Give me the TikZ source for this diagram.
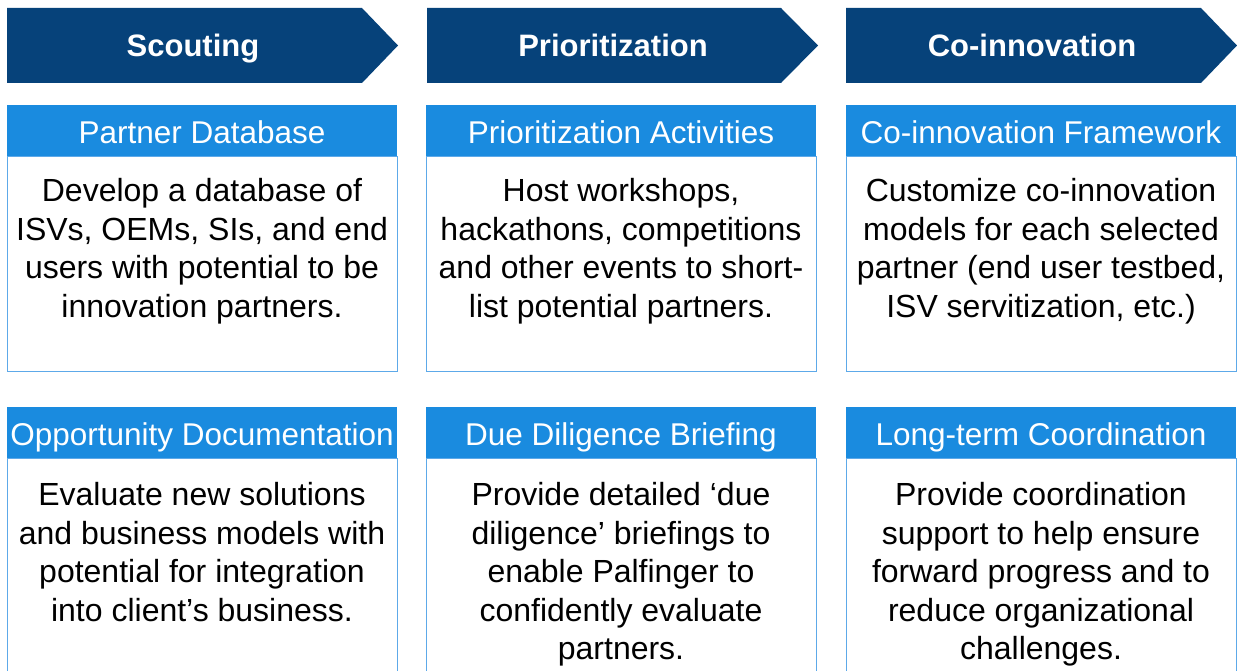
\documentclass[tikz,border=0pt]{standalone}
\usepackage{fontspec}
\setmainfont{Liberation Sans}
\definecolor{phaseblue}{HTML}{06427A}
\definecolor{headblue}{HTML}{1A8BDF}
\definecolor{edgeblue}{HTML}{5DA9E9}
\begin{document}
\begin{tikzpicture}[x=1pt,y=-1pt]
    \tikzstyle{phase}=[fill=phaseblue]
    \tikzstyle{phasetext}=[text=white,anchor=base,font=\fontsize{31}{36}\selectfont\bfseries]
    \tikzstyle{head}=[rectangle,fill=headblue,text=white,minimum width=390pt,minimum height=51pt,inner sep=0pt,text height=26pt,text depth=0pt,font=\fontsize{31.5}{36}\selectfont]
    \tikzstyle{body}=[draw=edgeblue,line width=1pt]
    \tikzstyle{bodytext}=[align=center,anchor=north,inner sep=0pt,font=\fontsize{32}{38.5}\selectfont]

    \useasboundingbox (0,0) rectangle (1237,671);
    \clip (0,0) rectangle (1237,671);

    % phase arrows
    \fill[phase] (7,8) -- (362,8) -- (398,45.5) -- (362,83) -- (7,83) -- cycle;
    \fill[phase] (427,8) -- (781,8) -- (818,45.5) -- (781,83) -- (427,83) -- cycle;
    \fill[phase] (846,8) -- (1201,8) -- (1237,45.5) -- (1201,83) -- (846,83) -- cycle;
    \node[phasetext] (scouting) at (193,57) {Scouting};
    \node[phasetext] (prio) at (613,57) {Prioritization};
    \node[phasetext] (coinno) at (1032,57) {Co-innovation};

    % first row
    \draw[body] (7,157) rectangle (397,371);
    \draw[body] (426,157) rectangle (816,371);
    \draw[body] (846,157) rectangle (1236,371);
    \node[head] (database) at (202,131) {Partner Database};
    \node[head] (activities) at (621,131) {Prioritization Activities};
    \node[head] (framework) at (1041,131) {Co-innovation Framework};
    \node[bodytext] (develop) at (202,178.5) {Develop a database of\\ISVs, OEMs, SIs, and end\\users with potential to be\\innovation partners.};
    \node[bodytext] (host) at (621,178.5) {Host workshops,\\hackathons, competitions\\and other events to short-\\list potential partners.};
    \node[bodytext] (customize) at (1041,178.5) {Customize co-innovation\\models for each selected\\partner (end user testbed,\\ISV servitization, etc.)};

    % second row
    \draw[body] (7,458) rectangle (397,690);
    \draw[body] (426,458) rectangle (816,690);
    \draw[body] (846,458) rectangle (1236,690);
    \node[head] (opportunity) at (202,432.5) {Opportunity Documentation};
    \node[head] (diligence) at (621,432.5) {Due Diligence Briefing};
    \node[head] (coordination) at (1041,432.5) {Long-term Coordination};
    \node[bodytext] (evaluate) at (202,482.5) {Evaluate new solutions\\and business models with\\potential for integration\\into client’s business.};
    \node[bodytext] (briefings) at (621,482.5) {Provide detailed ‘due\\diligence’ briefings to\\enable Palfinger to\\confidently evaluate\\partners.};
    \node[bodytext] (support) at (1041,482.5) {Provide coordination\\support to help ensure\\forward progress and to\\reduce organizational\\challenges.};
\end{tikzpicture}
\end{document}
